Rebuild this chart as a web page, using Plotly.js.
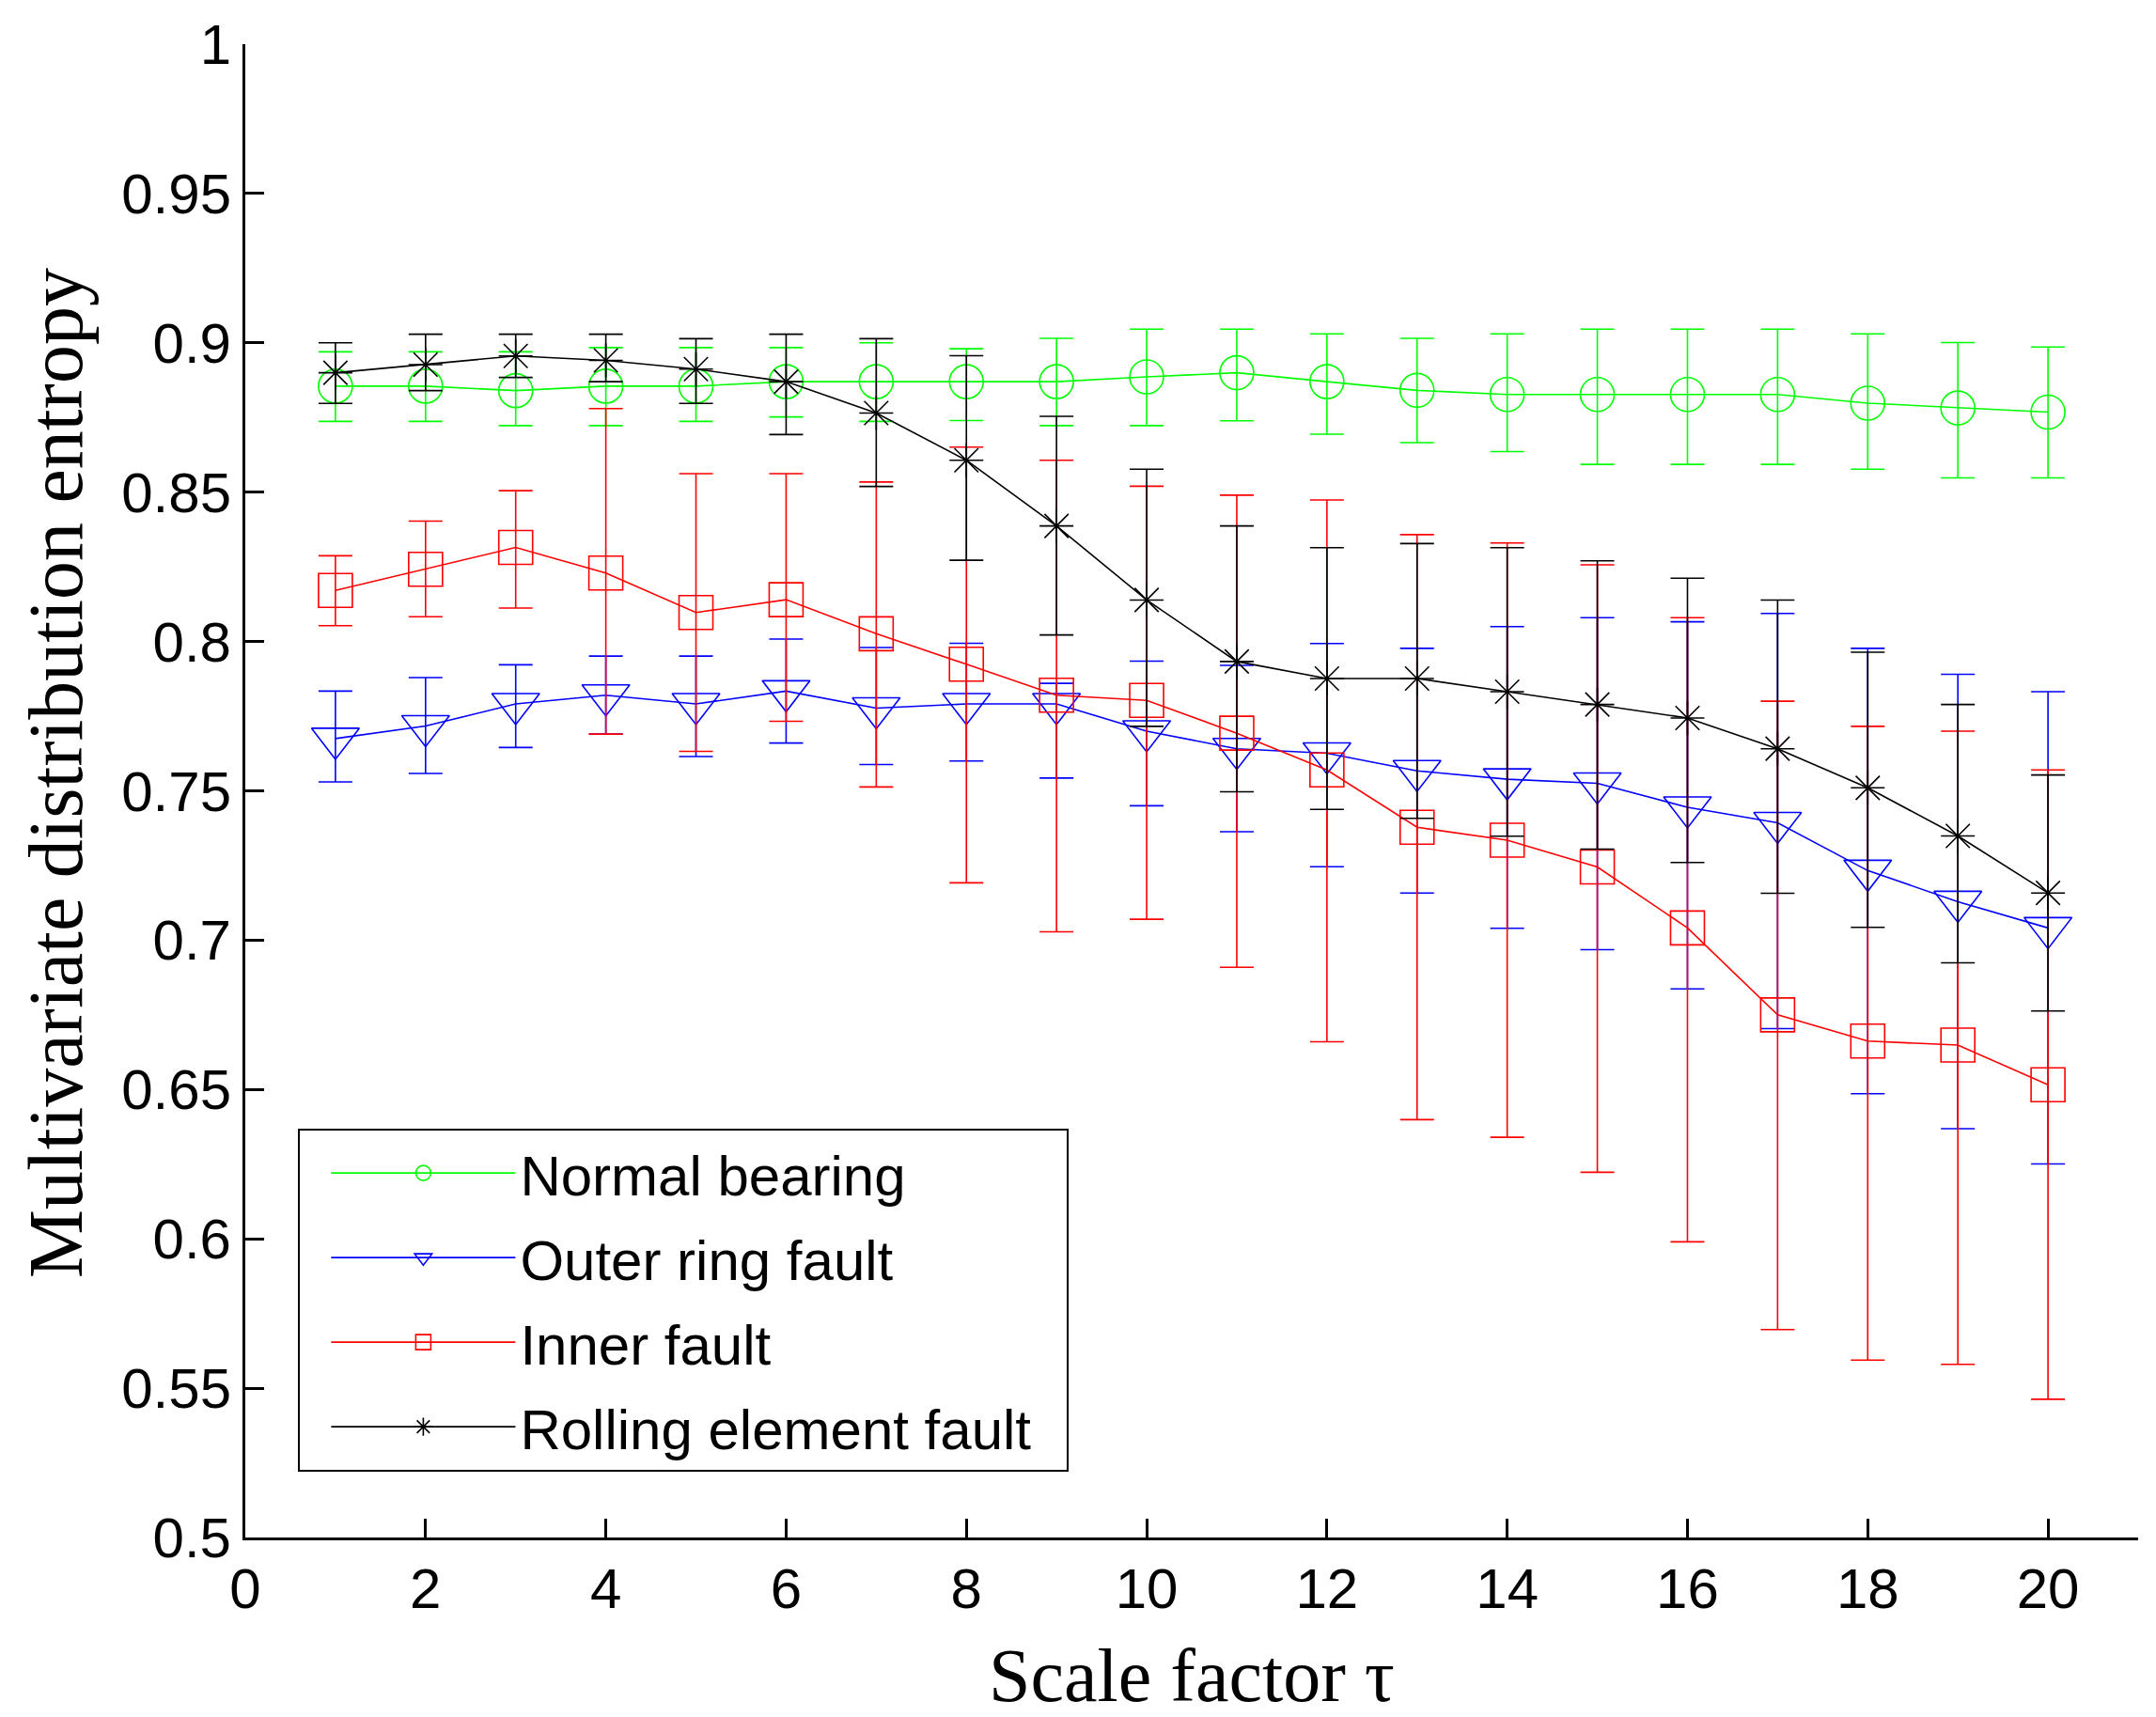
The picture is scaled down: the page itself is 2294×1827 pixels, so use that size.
<!DOCTYPE html>
<html>
<head>
<meta charset="utf-8">
<script src="https://cdn.plot.ly/plotly-3.0.1.min.js"></script>
<style>
  body { margin: 0; padding: 0; background: #fff; }
  #chart { width: 2294px; height: 1827px; }
</style>
</head>
<body>
<div id="chart"></div>
<script>
// scale factor tau
var scales = [1, 2, 3, 4, 5, 6, 7, 8, 9, 10, 11, 12, 13, 14, 15, 16, 17, 18, 19, 20];

// Normal bearing
var normalMean  = [0.8855, 0.8855, 0.884, 0.8855, 0.8855, 0.887, 0.887, 0.887, 0.887, 0.8886, 0.890, 0.887, 0.8841, 0.8827, 0.8827, 0.8827, 0.8827, 0.8798, 0.8782, 0.8768];
var normalUpper = [0.897, 0.897, 0.897, 0.8984, 0.8984, 0.8984, 0.900, 0.898, 0.9015, 0.9046, 0.9046, 0.903, 0.9015, 0.903, 0.9046, 0.9046, 0.9046, 0.903, 0.9001, 0.8986];
var normalLower = [0.8737, 0.8737, 0.8723, 0.8723, 0.8737, 0.8752, 0.8737, 0.874, 0.8723, 0.8723, 0.8739, 0.8694, 0.8666, 0.8636, 0.8593, 0.8593, 0.8593, 0.8577, 0.8548, 0.8548];

// Outer ring fault
var outerMean  = [0.7675, 0.7717, 0.7791, 0.782, 0.7791, 0.7834, 0.7777, 0.7791, 0.7791, 0.770, 0.7641, 0.7626, 0.7567, 0.7539, 0.7525, 0.7445, 0.7393, 0.7233, 0.7129, 0.7041];
var outerUpper = [0.7834, 0.7879, 0.7922, 0.7951, 0.7951, 0.8008, 0.798, 0.7994, 0.786, 0.7934, 0.792, 0.7993, 0.7977, 0.805, 0.808, 0.8066, 0.8094, 0.7977, 0.789, 0.7832];
var outerLower = [0.753, 0.7558, 0.7645, 0.769, 0.7615, 0.766, 0.7588, 0.760, 0.7543, 0.745, 0.7363, 0.7246, 0.7158, 0.704, 0.6968, 0.6837, 0.6704, 0.6486, 0.6369, 0.6251];

// Inner fault
var innerMean  = [0.8171, 0.8242, 0.8315, 0.8229, 0.8097, 0.814, 0.8026, 0.7924, 0.782, 0.7803, 0.7693, 0.757, 0.7378, 0.7335, 0.7245, 0.7041, 0.675, 0.6662, 0.6649, 0.6516];
var innerUpper = [0.8287, 0.8403, 0.8505, 0.878, 0.8562, 0.8562, 0.8534, 0.8651, 0.8607, 0.852, 0.849, 0.8474, 0.8358, 0.833, 0.8257, 0.808, 0.78, 0.7716, 0.77, 0.757];
var innerLower = [0.8053, 0.8083, 0.8112, 0.769, 0.7632, 0.7733, 0.7513, 0.7192, 0.7028, 0.707, 0.6909, 0.666, 0.6399, 0.634, 0.6223, 0.599, 0.5696, 0.5594, 0.558, 0.5463];

// Rolling element fault
var rollingMean  = [0.890, 0.8927, 0.8956, 0.8941, 0.8912, 0.887, 0.8765, 0.8607, 0.8387, 0.8139, 0.7933, 0.7876, 0.7876, 0.7832, 0.7789, 0.7744, 0.7641, 0.751, 0.7349, 0.7158];
var rollingUpper = [0.900, 0.9029, 0.9029, 0.9029, 0.9014, 0.9029, 0.9014, 0.8957, 0.8754, 0.8577, 0.8387, 0.8314, 0.8328, 0.8314, 0.827, 0.8212, 0.8139, 0.7964, 0.7789, 0.7553];
var rollingLower = [0.8797, 0.884, 0.8884, 0.887, 0.8797, 0.8693, 0.8519, 0.8272, 0.8022, 0.7716, 0.7497, 0.7438, 0.7408, 0.7348, 0.7305, 0.726, 0.7157, 0.7043, 0.6924, 0.6763];

var xTicks = [0, 2, 4, 6, 8, 10, 12, 14, 16, 18, 20];
var yTicks = [0.5, 0.55, 0.6, 0.65, 0.7, 0.75, 0.8, 0.85, 0.9, 0.95, 1];
var yTickText = ['0.5', '0.55', '0.6', '0.65', '0.7', '0.75', '0.8', '0.85', '0.9', '0.95', '1'];

function diff(a, b) {
    var out = [];
    for (var i = 0; i < a.length; i++) {
        out.push(Math.max(0, a[i] - b[i]));
    }
    return out;
}

// two no-break spaces keep some room at the right of the legend box
var PAD = '\u00a0\u00a0';

function makeTrace(name, mean, upper, lower, color, symbol, size, group) {
    return {
        x: scales,
        y: mean,
        name: name + PAD,
        legendgroup: group,
        type: 'scatter',
        mode: 'lines+markers',
        line: { color: color, width: 1.6 },
        marker: { symbol: symbol, size: size, color: color, line: { color: color, width: 1.6 } },
        error_y: {
            type: 'data',
            symmetric: false,
            array: diff(upper, mean),
            arrayminus: diff(mean, lower),
            color: color,
            thickness: 1.6,
            width: 18
        }
    };
}

var data = [
    makeTrace('Normal bearing', normalMean, normalUpper, normalLower, '#00ff00', 'circle-open', 36, 'a'),
    makeTrace('Outer ring fault', outerMean, outerUpper, outerLower, '#0000ff', 'triangle-down-open', 44, 'b'),
    makeTrace('Inner fault', innerMean, innerUpper, innerLower, '#ff0000', 'square-open', 36, 'c'),
    makeTrace('Rolling element fault', rollingMean, rollingUpper, rollingLower, '#000000', 'asterisk-open', 30, 'd')
];

var axisFont = { family: 'Liberation Sans, Arial, sans-serif', size: 60, color: '#000' };
var serif = 'Liberation Serif, Times New Roman, serif';

var layout = {
    width: 2294,
    height: 1827,
    paper_bgcolor: '#fff',
    plot_bgcolor: '#fff',
    margin: { l: 261, r: 19, t: 47, b: 191 },
    showlegend: true,
    legend: {
        x: 0.028,
        y: 0.274,
        xanchor: 'left',
        yanchor: 'top',
        bgcolor: '#fff',
        bordercolor: '#000',
        borderwidth: 2,
        font: { family: 'Liberation Sans, Arial, sans-serif', size: 60, color: '#000' },
        traceorder: 'grouped',
        tracegroupgap: 9,
        itemwidth: 196,
        indentation: 28
    },
    xaxis: {
        range: [0, 21],
        tickvals: xTicks,
        ticks: 'inside',
        ticklen: 20,
        tickwidth: 3,
        tickcolor: '#000',
        showline: true,
        linewidth: 3,
        linecolor: '#000',
        showgrid: false,
        zeroline: false,
        tickfont: axisFont,
        title: { text: 'Scale factor τ', font: { family: serif, size: 80, color: '#000' }, standoff: 40 }
    },
    yaxis: {
        range: [0.5, 1],
        tickvals: yTicks,
        ticktext: yTickText,
        ticks: 'inside',
        ticklen: 20,
        tickwidth: 3,
        tickcolor: '#000',
        showline: true,
        linewidth: 3,
        linecolor: '#000',
        showgrid: false,
        zeroline: false,
        tickfont: axisFont
    },
    annotations: [{
        // y axis title, placed by hand a little above the middle as in the original
        text: 'Multivariate distribution entropy',
        xref: 'paper',
        yref: 'paper',
        x: -0.1,
        y: 0.512,
        xanchor: 'center',
        yanchor: 'middle',
        textangle: -90,
        showarrow: false,
        font: { family: serif, size: 82, color: '#000' }
    }]
};

Plotly.newPlot('chart', data, layout, { displayModeBar: false, responsive: false });
</script>
</body>
</html>
